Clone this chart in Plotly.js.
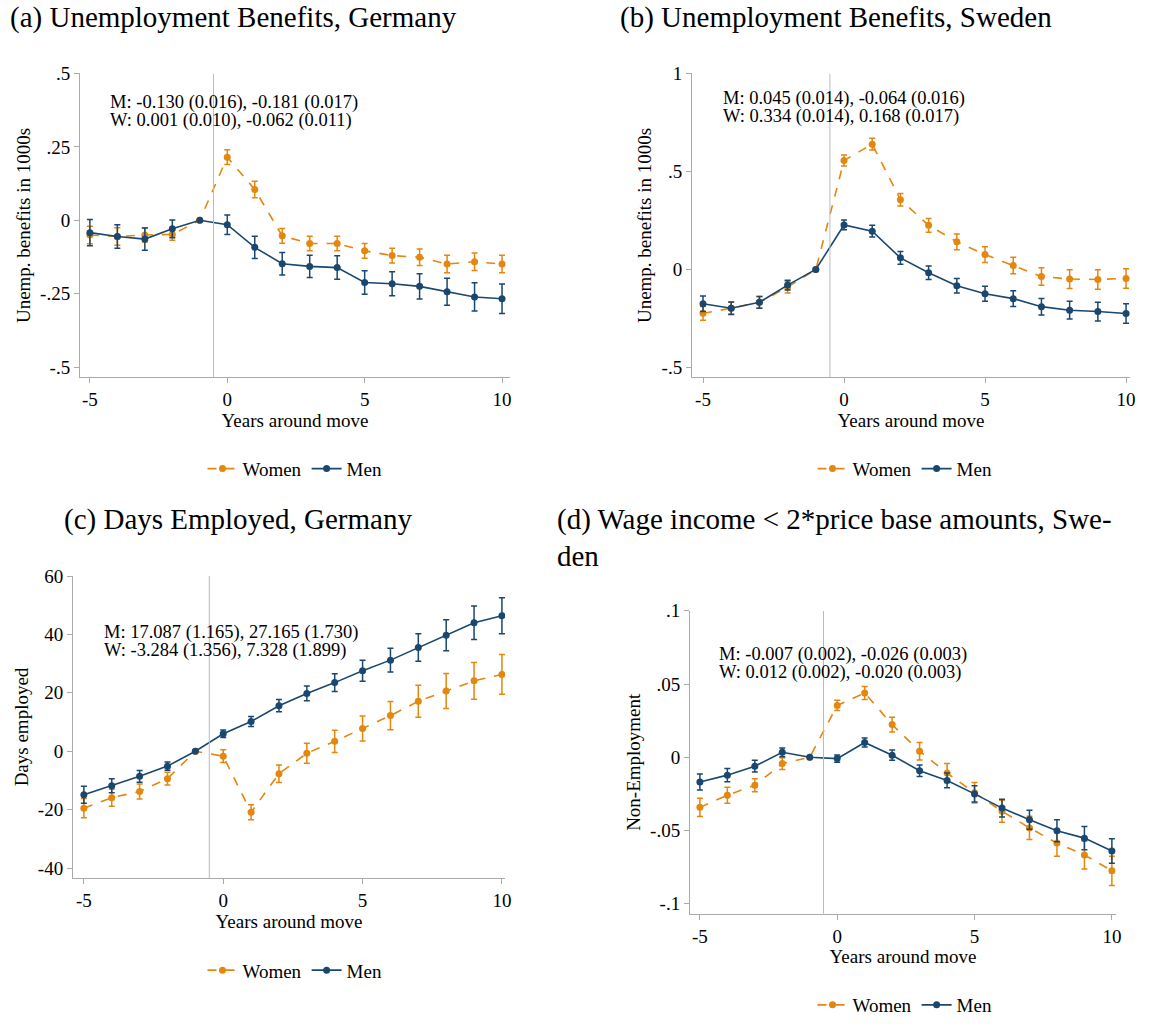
<!DOCTYPE html>
<html><head><meta charset="utf-8">
<script src="https://cdn.plot.ly/plotly-3.0.1.min.js"></script>
<style>body{margin:0;background:#fff}#c{width:1167px;height:1024px}</style>
</head><body><div id="c"></div>
<script>
const years = [-5,-4,-3,-2,-1,0,1,2,3,4,5,6,7,8,9,10];
const xTickText = ['-5','0','5','10'];

const aWomen = [-0.05,-0.055,-0.05,-0.048,0,0.215,0.105,-0.053,-0.079,-0.079,-0.104,-0.12,-0.126,-0.149,-0.141,-0.149];
const aWomenCI = [0.03,0.03,0.025,0.02,0,0.025,0.028,0.025,0.025,0.025,0.025,0.025,0.028,0.03,0.03,0.03];
const aMen = [-0.042,-0.055,-0.064,-0.029,0,-0.015,-0.092,-0.148,-0.157,-0.161,-0.212,-0.216,-0.225,-0.243,-0.261,-0.267];
const aMenCI = [0.045,0.04,0.038,0.03,0,0.033,0.038,0.038,0.038,0.04,0.04,0.041,0.043,0.046,0.048,0.05];

const bWomen = [-0.224,-0.198,-0.168,-0.09,0,0.556,0.639,0.356,0.225,0.141,0.076,0.02,-0.036,-0.049,-0.051,-0.046];
const bWomenCI = [0.035,0.03,0.03,0.03,0,0.028,0.03,0.032,0.035,0.04,0.04,0.042,0.045,0.048,0.05,0.05];
const bMen = [-0.175,-0.198,-0.168,-0.08,0,0.227,0.195,0.059,-0.017,-0.083,-0.124,-0.149,-0.19,-0.208,-0.215,-0.225];
const bMenCI = [0.04,0.032,0.03,0.025,0,0.025,0.03,0.032,0.035,0.037,0.038,0.04,0.042,0.045,0.048,0.05];

const cWomen = [-19.5,-15.9,-13.8,-9.4,0,-1.7,-20.9,-7.7,-0.7,3.4,7.8,12.2,17.1,20.6,24.1,26.3];
const cWomenCI = [3.3,2.9,2.6,2.2,0,2.2,2.6,3.0,3.4,3.8,4.3,4.8,5.5,6.0,6.3,6.8];
const cMen = [-14.9,-11.8,-8.6,-5.1,0,6.0,10.2,15.6,19.8,23.5,27.6,31.2,35.5,39.7,44.0,46.4];
const cMenCI = [2.9,2.4,2.0,1.4,0,1.3,1.7,2.1,2.5,3.0,3.6,4.1,4.7,5.3,5.7,6.2];

const dWomen = [-0.0342,-0.0259,-0.0191,-0.0043,0,0.0354,0.0439,0.0223,0.0041,-0.0108,-0.0243,-0.0369,-0.0482,-0.0586,-0.0667,-0.0775];
const dWomenCI = [0.0063,0.0055,0.0045,0.004,0,0.0035,0.0045,0.005,0.006,0.0065,0.007,0.0075,0.008,0.009,0.0095,0.01];
const dMen = [-0.0169,-0.0122,-0.0061,0.0034,0,-0.0009,0.0101,0.0014,-0.0092,-0.0158,-0.025,-0.0347,-0.0426,-0.0502,-0.0552,-0.064];
const dMenCI = [0.0055,0.0045,0.004,0.003,0,0.0025,0.003,0.0035,0.004,0.005,0.0055,0.006,0.0065,0.0075,0.008,0.0083];

const ORANGE = '#E3870F', NAVY = '#1A476F';
const F = 'Liberation Serif, DejaVu Serif, serif';
const panels = [
  {k:'', w:aWomen,wc:aWomenCI,m:aMen,mc:aMenCI, leg:'legend'},
  {k:'2', w:bWomen,wc:bWomenCI,m:bMen,mc:bMenCI, leg:'legend2'},
  {k:'3', w:cWomen,wc:cWomenCI,m:cMen,mc:cMenCI, leg:'legend3'},
  {k:'4', w:dWomen,wc:dWomenCI,m:dMen,mc:dMenCI, leg:'legend4'}
];
const traces = [];
panels.forEach(p=>{
  traces.push({x:years,y:p.w,type:'scatter',mode:'lines+markers',name:'Women',xaxis:'x'+p.k,yaxis:'y'+p.k,legend:p.leg,
    line:{color:ORANGE,width:1.6,dash:'dash'},marker:{color:ORANGE,size:7},
    error_y:{type:'data',array:p.wc,color:ORANGE,thickness:1.5,width:3}});
  traces.push({x:years,y:p.m,type:'scatter',mode:'lines+markers',name:'Men',xaxis:'x'+p.k,yaxis:'y'+p.k,legend:p.leg,
    line:{color:NAVY,width:1.6},marker:{color:NAVY,size:7},
    error_y:{type:'data',array:p.mc,color:NAVY,thickness:1.5,width:3}});
});

const W=1167,H=1024;
const px=v=>v/W, py=v=>1-v/H;
function xa(d0,d1,r,anchor){return {domain:[px(d0),px(d1)],range:r,anchor:anchor,tickvals:[-5,0,5,10],ticktext:xTickText,ticks:'outside',ticklen:5,
  showline:true,linecolor:'#aaa',tickcolor:'#aaa',showgrid:false,zeroline:false,tickfont:{family:F,size:19,color:'#000'},
  title:{text:'Years around move',font:{family:F,size:19,color:'#000'},standoff:4}};}
function ya(d0,d1,r,anchor,tv,tt,title){return {domain:[py(d0),py(d1)],range:r,anchor:anchor,tickvals:tv,ticktext:tt,ticks:'outside',ticklen:5,
  showline:true,linecolor:'#aaa',tickcolor:'#aaa',showgrid:false,zeroline:false,tickfont:{family:F,size:19,color:'#000'},
  title:{text:title,font:{family:F,size:19,color:'#000'},standoff:4}};}
function leg(x,y){return {orientation:'h',x:px(x),y:py(y),xanchor:'center',yanchor:'middle',font:{family:F,size:19,color:'#000'},bgcolor:'rgba(0,0,0,0)'};}
function vline(xr,yr,y0,y1){return {type:'line',xref:xr,yref:yr,x0:-0.5,x1:-0.5,y0:y0,y1:y1,line:{color:'#bbb',width:1}};}
function txt(x,y,t,size){return {xref:'paper',yref:'paper',x:px(x),y:py(y),xanchor:'left',yanchor:'middle',showarrow:false,text:t,font:{family:F,size:size||18.5,color:'#000'},align:'left'};}

const layout = {
  width:W,height:H,margin:{l:0,r:0,t:0,b:0},paper_bgcolor:'#fff',plot_bgcolor:'#fff',
  xaxis: xa(80,510,[-5.36,10.29],'y'),
  yaxis: ya(380,74,[-0.535,0.5],'x',[-0.5,-0.25,0,0.25,0.5],['-.5','-.25','0','.25','.5'],'Unemp. benefits in 1000s'),
  xaxis2: xa(692,1130,[-5.39,10.14],'y2'),
  yaxis2: ya(380,74,[-0.551,1],'x2',[-0.5,0,0.5,1],['-.5','0','.5','1'],'Unemp. benefits in 1000s'),
  xaxis3: xa(73,505,[-5.39,10.11],'y3'),
  yaxis3: ya(884,580,[-43.4,60],'x3',[-40,-20,0,20,40,60],['-40','-20','0','20','40','60'],'Days employed'),
  xaxis4: xa(690,1116,[-5.36,10.15],'y4'),
  yaxis4: ya(920,615,[-0.1068,0.1],'x4',[-0.1,-0.05,0,0.05,0.1],['-.1','-.05','0','.05','.1'],'Non-Employment'),
  legend: leg(295,472), legend2: leg(905,472), legend3: leg(295,977), legend4: leg(905,1012),
  shapes:[vline('x','y',-0.535,0.5),vline('x2','y2',-0.551,1),vline('x3','y3',-43.4,60),vline('x4','y4',-0.1068,0.1)],
  annotations:[
    txt(8,18,'(a) Unemployment Benefits, Germany',29),
    txt(618,18,'(b) Unemployment Benefits, Sweden',29),
    txt(62,523,'(c) Days Employed, Germany',29),
    txt(555,523,'(d) Wage income &lt; 2*price base amounts, Swe-',29),
    txt(555,560,'den',29),
    txt(108,103,'M: -0.130 (0.016), -0.181 (0.017)'),
    txt(108,121,'W: 0.001 (0.010), -0.062 (0.011)'),
    txt(721,99,'M: 0.045 (0.014), -0.064 (0.016)'),
    txt(721,117,'W: 0.334 (0.014), 0.168 (0.017)'),
    txt(102,637,'M: 17.087 (1.165), 27.165 (1.730)'),
    txt(102,655,'W: -3.284 (1.356), 7.328 (1.899)'),
    txt(717,659,'M: -0.007 (0.002), -0.026 (0.003)'),
    txt(717,677,'W: 0.012 (0.002), -0.020 (0.003)')
  ]
};
Plotly.newPlot('c',traces,layout,{staticPlot:true});
</script></body></html>
